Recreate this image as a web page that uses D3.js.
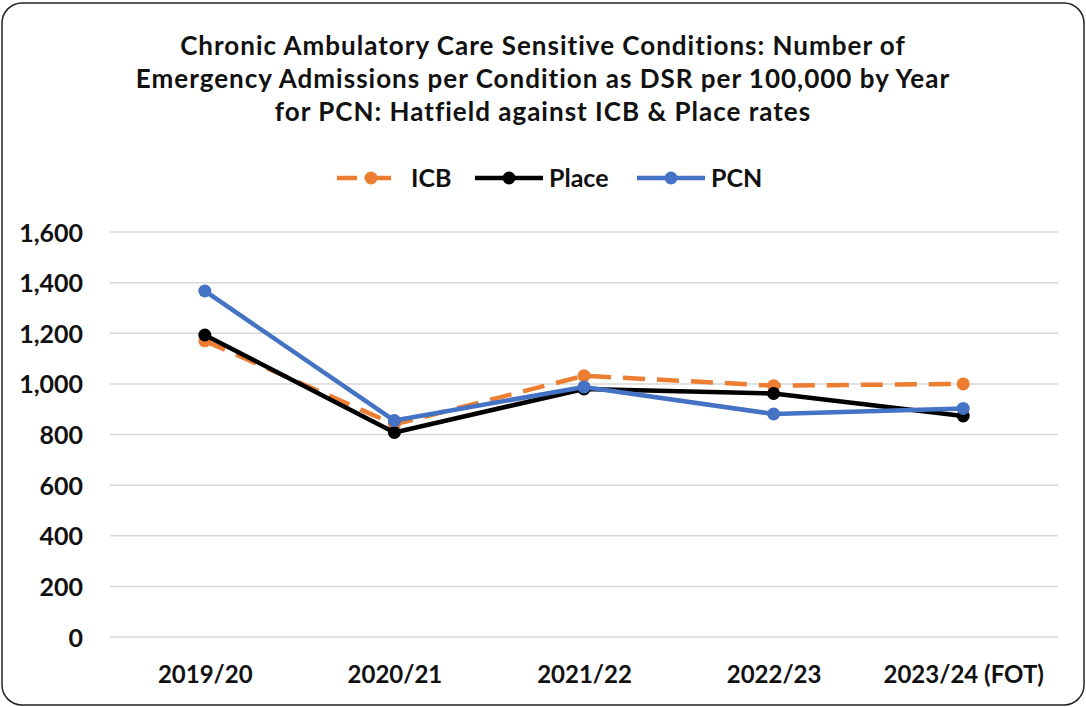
<!DOCTYPE html>
<html>
<head>
<meta charset="utf-8">
<script src="https://cdn.jsdelivr.net/npm/d3@7"></script>
<style>
  body { margin: 0; background: #fff; }
  text { font-family: Lato, "Open Sans", sans-serif; font-weight: bold; fill: #111; }
</style>
</head>
<body>
<svg></svg>
<script>
var years = ["2019/20", "2020/21", "2021/22", "2022/23", "2023/24 (FOT)"];
var icb = [1170, 840, 1032, 993, 1000];
var place = [1193, 808, 980, 962, 873];
var pcn = [1367, 855, 988, 881, 903];
var yTicks = [0, 200, 400, 600, 800, 1000, 1200, 1400, 1600];
var titleLines = [
  "Chronic Ambulatory Care Sensitive Conditions: Number of",
  "Emergency Admissions per Condition as DSR per 100,000 by Year",
  "for PCN: Hatfield against ICB & Place rates"
];

var screen = {width: 1086, height: 707};
var svg = d3.select("svg")
            .attr("width", screen.width)
            .attr("height", screen.height);

// chart frame
svg.append("rect")
   .attr("x", 2).attr("y", 3)
   .attr("width", 1082).attr("height", 702)
   .attr("rx", 20).attr("ry", 20)
   .attr("fill", "white")
   .attr("stroke", "#222")
   .attr("stroke-width", 1.5);

var plot = {left: 110, right: 1058, top: 232, bottom: 637};

var x = d3.scalePoint()
          .domain(years)
          .range([plot.left, plot.right])
          .padding(0.5);
var y = d3.scaleLinear()
          .domain([0, 1600])
          .range([plot.bottom, plot.top]);

// title
svg.append("g").selectAll("text")
   .data(titleLines)
   .enter()
   .append("text")
   .attr("x", 543)
   .attr("y", function(d, i) { return 55 + i * 33; })
   .attr("text-anchor", "middle")
   .style("font-size", "26px")
   .style("letter-spacing", "1px")
   .text(function(d) { return d; });

// gridlines
svg.append("g").selectAll("line")
   .data(yTicks)
   .enter()
   .append("line")
   .attr("x1", plot.left).attr("x2", plot.right)
   .attr("y1", function(d) { return y(d); })
   .attr("y2", function(d) { return y(d); })
   .attr("stroke", "#d9d9d9")
   .attr("stroke-width", 1.5);

// y axis labels
var yAxis = d3.axisLeft(y)
              .tickValues(yTicks)
              .tickFormat(d3.format(","))
              .tickSize(0)
              .tickPadding(27);
var yg = svg.append("g")
            .attr("transform", "translate(" + plot.left + ",0)")
            .call(yAxis);
yg.select(".domain").remove();
yg.selectAll("text")
  .attr("dy", "0.36em")
  .style("font-size", "25px");

// x axis labels
var xAxis = d3.axisBottom(x).tickSize(0).tickPadding(0);
var xg = svg.append("g")
            .attr("transform", "translate(0," + plot.bottom + ")")
            .call(xAxis);
xg.select(".domain").remove();
xg.selectAll("text")
  .attr("y", 46)
  .attr("dy", 0)
  .style("font-size", "24px");

var series = [
  {name: "ICB", values: icb, color: "#ed7d31", dash: "22,12"},
  {name: "Place", values: place, color: "#000000", dash: null},
  {name: "PCN", values: pcn, color: "#4472c4", dash: null}
];

var line = d3.line()
             .x(function(d, i) { return x(years[i]); })
             .y(function(d) { return y(d); });

series.forEach(function(s) {
  svg.append("path")
     .datum(s.values)
     .attr("d", line)
     .attr("fill", "none")
     .attr("stroke", s.color)
     .attr("stroke-width", 4.5)
     .attr("stroke-linejoin", "round")
     .attr("stroke-dasharray", s.dash);
  svg.append("g").selectAll("circle")
     .data(s.values)
     .enter()
     .append("circle")
     .attr("cx", function(d, i) { return x(years[i]); })
     .attr("cy", function(d) { return y(d); })
     .attr("r", 6.5)
     .attr("fill", s.color);
});

// legend
var legendX = [337, 475, 637];
var legend = svg.append("g").selectAll("g")
                .data(series)
                .enter()
                .append("g")
                .attr("transform", function(d, i) { return "translate(" + legendX[i] + ",178)"; });
legend.append("line")
      .attr("x1", 0).attr("x2", 68)
      .attr("stroke", function(d) { return d.color; })
      .attr("stroke-width", 4.5)
      .attr("stroke-dasharray", function(d) { return d.dash ? "20,14" : null; });
legend.append("circle")
      .attr("cx", 34).attr("r", 6.5)
      .attr("fill", function(d) { return d.color; });
legend.append("text")
      .attr("x", 74)
      .attr("dy", "0.36em")
      .style("font-size", "25px")
      .text(function(d) { return d.name; });
</script>
</body>
</html>
